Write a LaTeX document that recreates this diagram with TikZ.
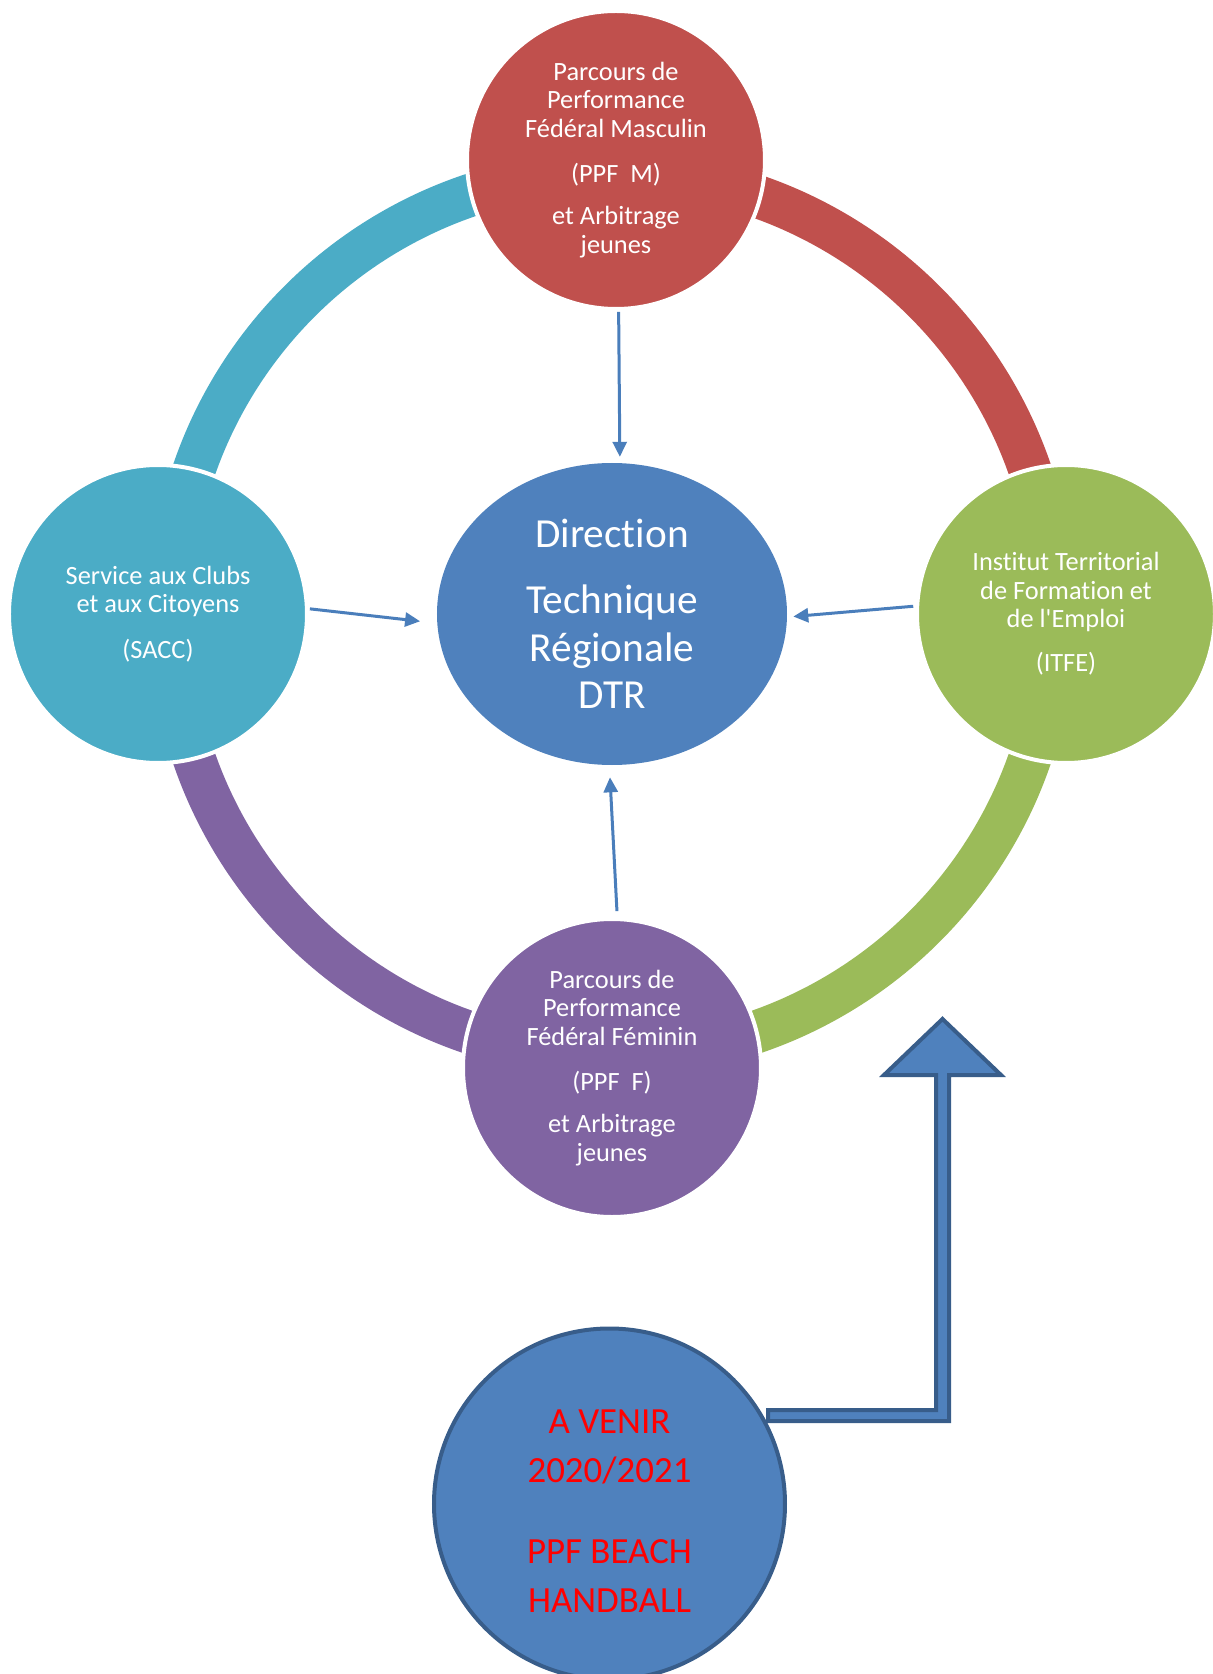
\documentclass[tikz,border=0pt]{standalone}
\usepackage{fontspec}
\setmainfont[Ligatures=NoCommon]{Carlito}
\usetikzlibrary{shapes,shapes.geometric,arrows.meta,calc}
\definecolor{ppfred}{HTML}{C0504D}
\definecolor{saccblue}{HTML}{4BACC6}
\definecolor{itfegreen}{HTML}{9BBB59}
\definecolor{ppfpurple}{HTML}{8064A2}
\definecolor{dtrblue}{HTML}{4F81BD}
\definecolor{linkblue}{HTML}{4A7EBB}
\definecolor{edgeblue}{HTML}{385D8A}
\begin{document}
\begin{tikzpicture}
		[bubble/.style={shape=circle,draw=white,line width=0.08cm,
			minimum size=5.96cm,inner sep=0pt,text=white,align=center,
			font=\fontsize{15}{16.2}\selectfont},
		hub/.style={shape=ellipse,fill=dtrblue,minimum width=7cm,
			minimum height=6.04cm,inner sep=0pt,text=white,align=center,
			font=\fontsize{23.5}{27}\selectfont},
		beachnode/.style={shape=circle,fill=dtrblue,draw=edgeblue,line width=0.08cm,
			minimum size=7.02cm,inner sep=0pt,text=red,align=center,
			font=\fontsize{21}{28}\selectfont},
		ringarc/.style={line width=0.86cm},
		link/.style={draw=linkblue,line width=0.06cm,-{Triangle[length=0.3cm,width=0.28cm]}},
		bentarrow/.style={fill=dtrblue,draw=edgeblue,line width=0.08cm}]
		\useasboundingbox (-12.24,12.28) rectangle (12.0,-21.2);
		\coordinate (o) at (0,0);
		\draw[ringarc,ppfred] (o) ++(0:8.84) arc[start angle=0,end angle=90,radius=8.84];
		\draw[ringarc,saccblue] (o) ++(90:8.84) arc[start angle=90,end angle=180,radius=8.84];
		\draw[ringarc,ppfpurple] (o) ++(180:8.84) arc[start angle=180,end angle=270,radius=8.84];
		\draw[ringarc,itfegreen] (o) ++(270:8.84) arc[start angle=270,end angle=360,radius=8.84];
		\node[hub] (dtr) at (o) {Direction\\[10.5pt] Technique\\ Régionale\\ DTR};
		\node[bubble,fill=ppfred] (ppfm) at (0.08,9.08)
			{Parcours de\\ Performance\\ Fédéral Masculin\\[9.5pt] (PPF~~M)\\[8pt] et Arbitrage\\ jeunes};
		\node[bubble,fill=saccblue] (sacc) at (-9.08,0)
			{Service aux Clubs\\ et aux Citoyens\\[9.5pt] (SACC)};
		\node[bubble,fill=itfegreen] (itfe) at (9.08,0)
			{Institut Territorial\\ de Formation et\\ de l\textquotesingle Emploi\\[9pt] (ITFE)};
		\node[bubble,fill=ppfpurple] (ppff) at (0,-9.08)
			{Parcours de\\ Performance\\ Fédéral Féminin\\[9.5pt] (PPF~~F)\\[8pt] et Arbitrage\\ jeunes};
		\node[beachnode] (beach) at (-0.05,-17.8)
			{\rule{0pt}{22pt}A VENIR\\ 2020/2021\\[18pt] PPF BEACH\\ HANDBALL};
		\path
		\foreach \startNode/\endNode/\gapA/\gapB in
			{ppfm.271/dtr.87/0.02/0.12, sacc.2/dtr.183/0.02/0.34,
			 itfe.177/dtr.359/0.04/0.12, ppff.88/dtr.269/0.12/0.24}
		{
			(\startNode) edge[link,shorten <=\gapA cm,shorten >=\gapB cm] (\endNode)
		};
		\draw[bentarrow] (3.12,-15.92) -- (6.48,-15.92) -- (6.48,-9.22)
			-- (5.44,-9.22) -- (6.61,-8.10) -- (7.78,-9.22) -- (6.74,-9.22)
			-- (6.74,-16.14) -- (3.12,-16.14) -- cycle;
		\end{tikzpicture}
\end{document}
